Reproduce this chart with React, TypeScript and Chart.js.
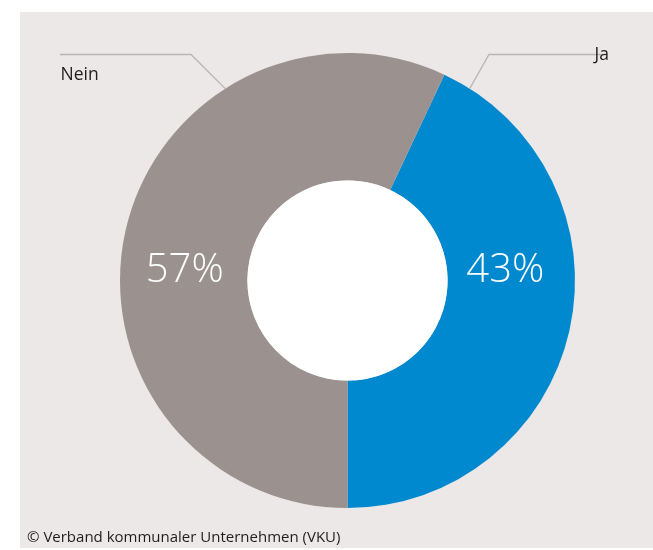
import React, { useEffect, useRef } from "react";
import { Chart, registerables } from "chart.js";

Chart.register(...registerables);

const categories = ["Ja", "Nein"];
const values = [43, 57];
const valueLabels = ["43%", "57%"];
const colors = ["#0089cf", "#9b928f"];
const footer = "© Verband kommunaler Unternehmen (VKU)";

const labelPlugin = {
  id: "donutLabels",
  afterDatasetsDraw(chart: any) {
    const ctx = chart.ctx;
    const meta = chart.getDatasetMeta(0);
    const arcs = meta.data;
    if (!arcs.length) return;
    const a0 = arcs[0];
    const cx = a0.x;
    const cy = a0.y;
    const rO = a0.outerRadius;
    const rI = a0.innerRadius;
    const rM = (rO + rI) / 2;
    ctx.save();
    // white hole
    ctx.fillStyle = "#ffffff";
    ctx.beginPath();
    ctx.arc(cx, cy, rI, 0, Math.PI * 2);
    ctx.fill();

    // percentage labels
    ctx.fillStyle = "#ffffff";
    ctx.font = "300 40px 'Open Sans'";
    ctx.textAlign = "center";
    ctx.textBaseline = "middle";
    ctx.fillText(valueLabels[0], cx + rM - 6, cy - 10);
    ctx.fillText(valueLabels[1], cx - rM + 1, cy - 10);

    // leader lines
    ctx.strokeStyle = "#b9b5b3";
    ctx.lineWidth = 1.3;
    const ang = (32.5 * Math.PI) / 180;
    const lineY = cy - rO + 1.5;
    // Ja (right)
    ctx.beginPath();
    ctx.moveTo(cx + Math.sin(ang) * rO, cy - Math.cos(ang) * rO);
    ctx.lineTo(cx + 141.5, lineY);
    ctx.lineTo(cx + 260, lineY);
    ctx.stroke();
    // Nein (left)
    ctx.beginPath();
    ctx.moveTo(cx - Math.sin(ang) * rO, cy - Math.cos(ang) * rO);
    ctx.lineTo(cx - 156.5, lineY);
    ctx.lineTo(cx - 287.5, lineY);
    ctx.stroke();

    ctx.fillStyle = "#1e1e1e";
    ctx.font = "500 17.5px 'Open Sans'";
    ctx.textAlign = "left";
    ctx.textBaseline = "alphabetic";
    ctx.fillText(categories[0], cx + 247, lineY + 5);
    ctx.fillText(categories[1], cx - 287, lineY + 25);
    ctx.restore();
  },
};

export default function App() {
  const ref = useRef<HTMLCanvasElement | null>(null);
  useEffect(() => {
    if (!ref.current) return;
    const chart = new Chart(ref.current, {
      type: "doughnut",
      data: {
        labels: categories,
        datasets: [
          {
            data: values,
            backgroundColor: colors,
            borderWidth: 0,
          },
        ],
      },
      options: {
        animation: false,
        responsive: false,
        rotation: 25.2,
        cutout: "44%",
        layout: { padding: { left: 100, right: 78, top: 41, bottom: 40 } },
        plugins: {
          legend: { display: false },
          tooltip: { enabled: false },
        },
      },
      plugins: [labelPlugin],
    });
    return () => chart.destroy();
  }, []);

  return (
    <div
      style={{
        position: "absolute",
        left: 0,
        top: 0,
        width: 653,
        height: 550,
        background: "#ffffff",
      }}
    >
      <div
        style={{
          position: "absolute",
          left: 20,
          top: 12,
          width: 633,
          height: 536,
          background: "#ece8e7",
        }}
      >
        <div style={{ position: "absolute", left: 0, top: 0, width: 633, height: 536 }}>
          <canvas ref={ref} width={633} height={536} />
        </div>
        <div
          style={{
            position: "absolute",
            left: 7,
            top: 514,
            fontFamily: "'Open Sans'",
            fontWeight: 500,
            fontSize: 15,
            color: "#1e1e1e",
            whiteSpace: "nowrap",
          }}
        >
          {footer}
        </div>
      </div>
    </div>
  );
}
